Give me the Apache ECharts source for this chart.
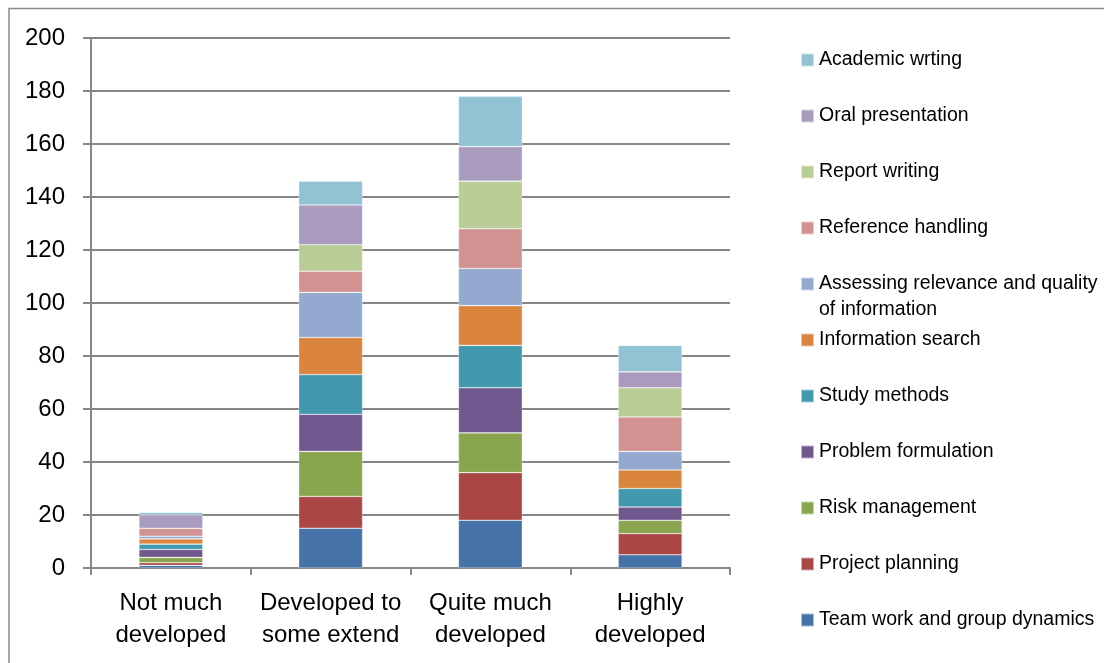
<!DOCTYPE html>
<html>
<head>
<meta charset="utf-8">
<script src="https://cdn.jsdelivr.net/npm/echarts@6/dist/echarts.min.js"></script>
<style>
  html, body { margin: 0; padding: 0; background: #fff; }
  #chart { width: 1104px; height: 663px; }
</style>
</head>
<body>
<div id="chart"></div>
<script>
const categories = ['Not much\ndeveloped', 'Developed to\nsome extend', 'Quite much\ndeveloped', 'Highly\ndeveloped'];
const yTicks = [0, 20, 40, 60, 80, 100, 120, 140, 160, 180, 200];

const seriesNames = [
  'Team work and group dynamics',
  'Project planning',
  'Risk management',
  'Problem formulation',
  'Study methods',
  'Information search',
  'Assessing relevance and quality of information',
  'Reference handling',
  'Report writing',
  'Oral presentation',
  'Academic wrting'
];

const teamWork        = [1, 15, 18, 5];
const projectPlanning = [1, 12, 18, 8];
const riskManagement  = [2, 17, 15, 5];
const problemForm     = [3, 14, 17, 5];
const studyMethods    = [2, 15, 16, 7];
const infoSearch      = [2, 14, 15, 7];
const assessing       = [1, 17, 14, 7];
const referenceHand   = [3, 8, 15, 13];
const reportWriting   = [0, 10, 18, 11];
const oralPresent     = [5, 15, 13, 6];
const academicWriting = [1, 9, 19, 10];

const seriesValues = [teamWork, projectPlanning, riskManagement, problemForm, studyMethods,
  infoSearch, assessing, referenceHand, reportWriting, oralPresent, academicWriting];

const colors = ['#4572A7', '#AA4643', '#89A54E', '#71588F', '#4198AF', '#DB843D',
  '#93A9CF', '#D19392', '#B9CD96', '#A99BBD', '#91C3D5'];

const FONT = '"Liberation Sans", Arial, sans-serif';

const chart = echarts.init(document.getElementById('chart'), null, { renderer: 'canvas' });

const series = seriesNames.map((name, i) => ({
  name: name,
  type: 'bar',
  stack: 'total',
  barWidth: '40%',
  data: seriesValues[i],
  itemStyle: { color: colors[i], borderColor: 'rgba(255,255,255,0.55)', borderWidth: 0.6 },
  emphasis: { disabled: true }
}));

const legendText = { fontFamily: FONT, fontSize: 19.5, color: '#000', lineHeight: 20 };
const commonLegend = {
  orient: 'vertical',
  left: 800,
  padding: 0,
  itemWidth: 13,
  itemHeight: 13,
  itemGap: 36,
  icon: 'rect',
  selectedMode: false,
  textStyle: legendText
};

chart.setOption({
  animation: false,
  color: colors,
  textStyle: { fontFamily: FONT },
  grid: { left: 91, right: 374, top: 38, bottom: 95, containLabel: false },
  legend: [
    Object.assign({}, commonLegend, {
      top: 50,
      data: ['Academic wrting', 'Oral presentation', 'Report writing', 'Reference handling']
    }),
    Object.assign({}, commonLegend, {
      top: 245,
      data: ['Assessing relevance and quality of information'],
      formatter: function () { return '\nAssessing relevance and quality\nof information'; },
      textStyle: Object.assign({}, legendText, { lineHeight: 26 })
    }),
    Object.assign({}, commonLegend, {
      top: 330,
      data: ['Information search', 'Study methods', 'Problem formulation', 'Risk management',
        'Project planning', 'Team work and group dynamics']
    })
  ],
  xAxis: {
    type: 'category',
    data: categories,
    axisLine: { lineStyle: { color: '#868686', width: 2 } },
    axisTick: { show: true, length: 7, inside: false, lineStyle: { color: '#868686', width: 2 } },
    axisLabel: { fontFamily: FONT, fontSize: 24, color: '#000', lineHeight: 32, margin: 19, interval: 0 }
  },
  yAxis: {
    type: 'value',
    min: yTicks[0],
    max: yTicks[yTicks.length - 1],
    interval: 20,
    axisLine: { show: true, lineStyle: { color: '#868686', width: 2 } },
    axisTick: { show: true, length: 8, inside: false, lineStyle: { color: '#868686', width: 2 } },
    axisLabel: { fontFamily: FONT, fontSize: 24, color: '#000', margin: 26 },
    splitLine: { show: true, lineStyle: { color: '#868686', width: 2 } }
  },
  graphic: [{
    type: 'rect',
    silent: true,
    shape: { x: 9, y: 8.5, width: 1300, height: 900 },
    style: { fill: 'none', stroke: '#8a8a8a', lineWidth: 1.5 },
    z: 100
  }],
  series: series
});
</script>
</body>
</html>
